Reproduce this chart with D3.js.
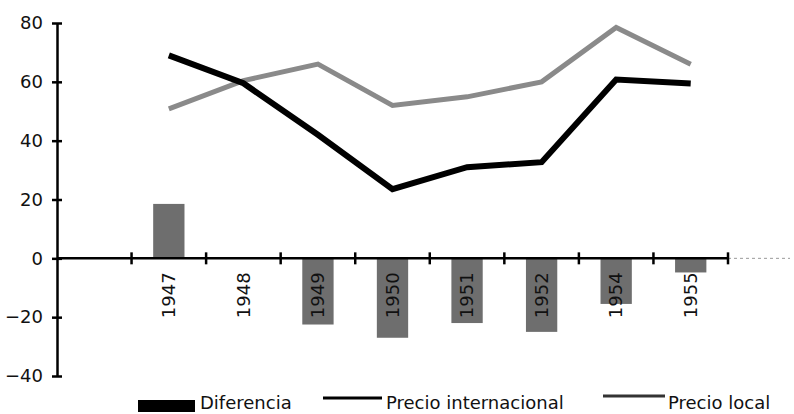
<!DOCTYPE html>
<html>
<head>
<meta charset="utf-8">
<script src="https://cdn.jsdelivr.net/npm/d3@7"></script>
<style>
  body { margin: 0; background: #fff; }
  text { font-family: "DejaVu Sans", sans-serif; fill: #111; }
</style>
</head>
<body>
<script>
// Data (first band is an empty slot on the axis)
var years = ["", "1947", "1948", "1949", "1950", "1951", "1952", "1954", "1955"];
var diferencia = [null, 18.5, null, -22.5, -27, -22, -25, -15.5, -4.8];
var precioInternacional = [null, 69, 59.5, 42, 23.5, 31, 32.7, 60.8, 59.4];
var precioLocal = [null, 50.8, 60.4, 66, 52, 54.9, 60, 78.5, 66];
var yTicks = [80, 60, 40, 20, 0, -20, -40];

var width = 794, height = 414;

var svg = d3.select("body").append("svg")
    .attr("width", width)
    .attr("height", height);

// Scales
var x = d3.scaleBand()
    .domain(years)
    .range([57, 728])
    .padding(0);

var y = d3.scaleLinear()
    .domain([-40, 80])
    .range([376, 23]);

var barW = x.bandwidth() * 0.42;
function cx(d) { return x(d) + x.bandwidth() / 2; }

// Bars
var barData = years.map(function(d, i) { return {year: d, v: diferencia[i]}; })
    .filter(function(d) { return d.v !== null; });

svg.selectAll(".bar")
    .data(barData)
    .enter().append("rect")
    .attr("class", "bar")
    .attr("x", function(d) { return cx(d.year) - barW / 2; })
    .attr("y", function(d) { return y(Math.max(0, d.v)); })
    .attr("width", barW)
    .attr("height", function(d) { return Math.abs(y(d.v) - y(0)); })
    .attr("fill", "#6e6e6e");

// Y axis
var yAxis = d3.axisLeft(y)
    .tickValues(yTicks)
    .tickSize(0)
    .tickPadding(14);

var gy = svg.append("g")
    .attr("transform", "translate(57,0)")
    .call(yAxis);
gy.select(".domain").attr("stroke", "#000").attr("stroke-width", 2.5);
gy.selectAll(".tick text").style("font-size", "18px").attr("fill", "#111");
gy.selectAll(".tick").append("line")
    .attr("x1", -5).attr("x2", 5)
    .attr("stroke", "#000").attr("stroke-width", 2.5);

// X axis line at zero with band boundary ticks
var zeroY = y(0);
svg.append("line")
    .attr("x1", 57).attr("x2", 728)
    .attr("y1", zeroY).attr("y2", zeroY)
    .attr("stroke", "#000").attr("stroke-width", 2.5);
svg.append("line")
    .attr("x1", 728).attr("x2", 790)
    .attr("y1", zeroY).attr("y2", zeroY)
    .attr("stroke", "#999").attr("stroke-width", 1)
    .attr("stroke-dasharray", "3,3");

var boundaries = years.slice(1).map(function(d) { return x(d); }).concat([x.range()[1]]);
svg.selectAll(".xtick")
    .data(boundaries)
    .enter().append("line")
    .attr("class", "xtick")
    .attr("x1", function(d) { return d; })
    .attr("x2", function(d) { return d; })
    .attr("y1", zeroY - 6)
    .attr("y2", zeroY + 6)
    .attr("stroke", "#000").attr("stroke-width", 2.5);

// Year labels, rotated, below the axis
svg.selectAll(".year")
    .data(years.filter(function(d) { return d !== ""; }))
    .enter().append("text")
    .attr("class", "year")
    .attr("transform", function(d) { return "translate(" + cx(d) + "," + (zeroY + 14) + ") rotate(-90)"; })
    .attr("text-anchor", "end")
    .attr("dy", "0.35em")
    .style("font-size", "18px")
    .text(function(d) { return d; });

// Lines
var line = d3.line()
    .defined(function(d) { return d.v !== null; })
    .x(function(d) { return cx(d.year); })
    .y(function(d) { return y(d.v); });

function series(vals) {
    return years.map(function(d, i) { return {year: d, v: vals[i]}; });
}

svg.append("path")
    .datum(series(precioLocal))
    .attr("fill", "none")
    .attr("stroke", "#8a8a8a")
    .attr("stroke-width", 5)
    .attr("d", line);

svg.append("path")
    .datum(series(precioInternacional))
    .attr("fill", "none")
    .attr("stroke", "#000")
    .attr("stroke-width", 6)
    .attr("d", line);

// Legend
var legend = svg.append("g");

legend.append("rect")
    .attr("x", 138).attr("y", 400)
    .attr("width", 57).attr("height", 12)
    .attr("fill", "#000");
legend.append("text")
    .attr("x", 200).attr("y", 409)
    .style("font-size", "18px")
    .text("Diferencia");

legend.append("line")
    .attr("x1", 323).attr("x2", 382)
    .attr("y1", 398).attr("y2", 398)
    .attr("stroke", "#000").attr("stroke-width", 3);
legend.append("text")
    .attr("x", 386).attr("y", 409)
    .style("font-size", "18px")
    .text("Precio internacional");

legend.append("line")
    .attr("x1", 603).attr("x2", 665)
    .attr("y1", 396).attr("y2", 396)
    .attr("stroke", "#333").attr("stroke-width", 3);
legend.append("text")
    .attr("x", 668).attr("y", 409)
    .style("font-size", "18px")
    .text("Precio local");
</script>
</body>
</html>
